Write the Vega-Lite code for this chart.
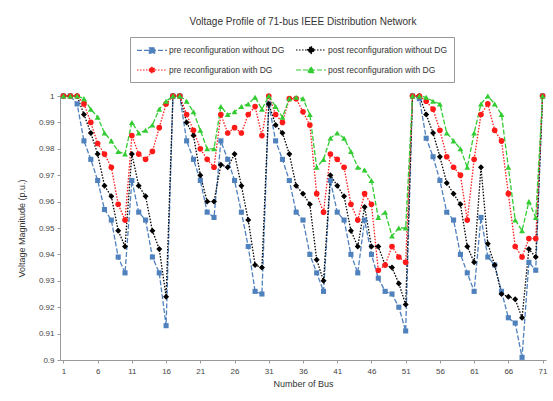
{
  "$schema": "https://vega.github.io/schema/vega-lite/v6.json",
  "width": 486,
  "height": 264,
  "autosize": "none",
  "padding": {"left": 60, "top": 96, "right": 7, "bottom": 41},
  "background": "white",
  "title": {"text": "Voltage Profile of 71-bus IEEE Distribution Network", "font": "Liberation Sans", "fontSize": 10, "fontWeight": "normal", "color": "#333333", "anchor": "middle", "frame": "group", "offset": 10},
  "data": {"values": [
    {"bus":1,"a":1,"b":1,"c":1,"d":1},
    {"bus":2,"a":1,"b":1,"c":1,"d":1},
    {"bus":3,"a":0.997,"b":1,"c":1,"d":1},
    {"bus":4,"a":0.983,"b":0.993,"c":0.997,"d":0.999},
    {"bus":5,"a":0.976,"b":0.986,"c":0.990,"d":0.995},
    {"bus":6,"a":0.968,"b":0.978,"c":0.982,"d":0.992},
    {"bus":7,"a":0.957,"b":0.966,"c":0.978,"d":0.986},
    {"bus":8,"a":0.953,"b":0.962,"c":0.973,"d":0.983},
    {"bus":9,"a":0.939,"b":0.949,"c":0.959,"d":0.979},
    {"bus":10,"a":0.933,"b":0.943,"c":0.953,"d":0.978},
    {"bus":11,"a":0.968,"b":0.978,"c":0.985,"d":0.990},
    {"bus":12,"a":0.956,"b":0.966,"c":0.978,"d":0.986},
    {"bus":13,"a":0.953,"b":0.962,"c":0.976,"d":0.987},
    {"bus":14,"a":0.939,"b":0.949,"c":0.979,"d":0.989},
    {"bus":15,"a":0.933,"b":0.942,"c":0.988,"d":0.995},
    {"bus":16,"a":0.913,"b":0.924,"c":0.997,"d":0.998},
    {"bus":17,"a":1,"b":1,"c":1,"d":1},
    {"bus":18,"a":1,"b":1,"c":1,"d":1},
    {"bus":19,"a":0.983,"b":0.990,"c":0.993,"d":0.998},
    {"bus":20,"a":0.976,"b":0.985,"c":0.987,"d":0.994},
    {"bus":21,"a":0.968,"b":0.970,"c":0.980,"d":0.987},
    {"bus":22,"a":0.956,"b":0.960,"c":0.976,"d":0.980},
    {"bus":23,"a":0.954,"b":0.960,"c":0.973,"d":0.980},
    {"bus":24,"a":0.983,"b":0.974,"c":0.993,"d":0.996},
    {"bus":25,"a":0.976,"b":0.973,"c":0.986,"d":0.993},
    {"bus":26,"a":0.968,"b":0.978,"c":0.988,"d":0.994},
    {"bus":27,"a":0.956,"b":0.966,"c":0.986,"d":0.996},
    {"bus":28,"a":0.943,"b":0.953,"c":0.993,"d":0.997},
    {"bus":29,"a":0.926,"b":0.936,"c":0.996,"d":0.9995},
    {"bus":30,"a":0.925,"b":0.935,"c":0.985,"d":0.995},
    {"bus":31,"a":0.997,"b":0.997,"c":1,"d":1},
    {"bus":32,"a":0.983,"b":0.989,"c":0.993,"d":0.996},
    {"bus":33,"a":0.976,"b":0.986,"c":0.990,"d":0.992},
    {"bus":34,"a":0.968,"b":0.978,"c":0.999,"d":0.999},
    {"bus":35,"a":0.956,"b":0.966,"c":0.999,"d":0.9995},
    {"bus":36,"a":0.953,"b":0.963,"c":0.994,"d":0.999},
    {"bus":37,"a":0.940,"b":0.959,"c":0.989,"d":0.993},
    {"bus":38,"a":0.933,"b":0.938,"c":0.963,"d":0.973},
    {"bus":39,"a":0.926,"b":0.930,"c":0.956,"d":0.976},
    {"bus":40,"a":0.968,"b":0.970,"c":0.978,"d":0.984},
    {"bus":41,"a":0.956,"b":0.966,"c":0.976,"d":0.986},
    {"bus":42,"a":0.953,"b":0.962,"c":0.973,"d":0.984},
    {"bus":43,"a":0.940,"b":0.949,"c":0.959,"d":0.979},
    {"bus":44,"a":0.933,"b":0.943,"c":0.953,"d":0.973},
    {"bus":45,"a":0.953,"b":0.958,"c":0.963,"d":0.972},
    {"bus":46,"a":0.940,"b":0.943,"c":0.959,"d":0.968},
    {"bus":47,"a":0.931,"b":0.943,"c":0.934,"d":0.954},
    {"bus":48,"a":0.926,"b":0.936,"c":0.936,"d":0.956},
    {"bus":49,"a":0.925,"b":0.935,"c":0.943,"d":0.947},
    {"bus":50,"a":0.920,"b":0.929,"c":0.939,"d":0.950},
    {"bus":51,"a":0.911,"b":0.921,"c":0.937,"d":0.950},
    {"bus":52,"a":1,"b":1,"c":1,"d":1},
    {"bus":53,"a":0.999,"b":1,"c":1,"d":1},
    {"bus":54,"a":0.984,"b":0.993,"c":0.998,"d":0.9995},
    {"bus":55,"a":0.977,"b":0.986,"c":0.995,"d":0.998},
    {"bus":56,"a":0.968,"b":0.977,"c":0.987,"d":0.997},
    {"bus":57,"a":0.956,"b":0.967,"c":0.977,"d":0.986},
    {"bus":58,"a":0.953,"b":0.963,"c":0.973,"d":0.983},
    {"bus":59,"a":0.940,"b":0.959,"c":0.970,"d":0.980},
    {"bus":60,"a":0.933,"b":0.943,"c":0.953,"d":0.973},
    {"bus":61,"a":0.926,"b":0.937,"c":0.976,"d":0.986},
    {"bus":62,"a":0.954,"b":0.973,"c":0.993,"d":0.997},
    {"bus":63,"a":0.939,"b":0.944,"c":0.997,"d":1},
    {"bus":64,"a":0.936,"b":0.936,"c":0.987,"d":0.997},
    {"bus":65,"a":0.926,"b":0.925,"c":0.983,"d":0.993},
    {"bus":66,"a":0.916,"b":0.924,"c":0.963,"d":0.973},
    {"bus":67,"a":0.914,"b":0.923,"c":0.943,"d":0.953},
    {"bus":68,"a":0.901,"b":0.916,"c":0.939,"d":0.949},
    {"bus":69,"a":0.937,"b":0.942,"c":0.946,"d":0.960},
    {"bus":70,"a":0.934,"b":0.939,"c":0.946,"d":0.954},
    {"bus":71,"a":1,"b":1,"c":1,"d":1}
  ]},
  "transform": [{"fold": ["a", "b", "c", "d"], "as": ["key", "v"]}],
  "encoding": {
    "x": {"field": "bus", "type": "quantitative",
      "scale": {"domain": [0.5, 71.5], "nice": false, "zero": false},
      "axis": {"values": [1,6,11,16,21,26,31,36,41,46,51,56,61,66,71], "title": "Number of Bus", "grid": false,
        "domainColor": "#999999", "tickColor": "#999999", "tickSize": 3, "labelFont": "Liberation Sans", "labelFontSize": 8, "labelColor": "#444444", "labelPadding": 4,
        "titleFont": "Liberation Sans", "titleFontSize": 9, "titleFontWeight": "normal", "titleColor": "#333333", "titlePadding": 4}},
    "y": {"field": "v", "type": "quantitative",
      "scale": {"domain": [0.9, 1], "nice": false, "zero": false},
      "axis": {"values": [0.9,0.91,0.92,0.93,0.94,0.95,0.96,0.97,0.98,0.99,1], "format": ".2~f", "title": "Voltage Magnitude (p.u.)", "grid": false,
        "domainColor": "#999999", "tickColor": "#999999", "tickSize": 3, "labelFont": "Liberation Sans", "labelFontSize": 8, "labelColor": "#444444", "labelPadding": 3,
        "titleFont": "Liberation Sans", "titleFontSize": 9, "titleFontWeight": "normal", "titleColor": "#333333", "titlePadding": 12}},
    "color": {"field": "key", "type": "nominal",
      "scale": {"domain": ["a", "b", "c", "d"], "range": ["#4F81BD", "#000000", "#FF1A1A", "#33CC33"]},
      "legend": {"orient": "none", "legendX": 70, "legendY": -59, "columns": 2, "direction": "horizontal", "title": null,
        "strokeColor": "#999999", "fillColor": "white", "padding": 6, "rowPadding": 7, "columnPadding": 8,
        "labelFont": "Liberation Sans", "labelFontSize": 8.5, "labelColor": "#333333", "labelOffset": 19, "symbolSize": 144,
        "labelExpr": "datum.value == 'a' ? 'pre reconfiguration without DG' : datum.value == 'b' ? 'post reconfiguration without DG' : datum.value == 'c' ? 'pre reconfiguration with DG' : 'post reconfiguration with DG'",
        "encode": {"symbols": {"update": {
          "shape": {"signal": "datum.value == 'a' ? 'M-1,0H4M1.05,-0.45H1.95V0.45H1.05Z' : datum.value == 'b' ? 'M-1,0H4M1.5,-0.6L2.1,0L1.5,0.6L0.9,0Z' : datum.value == 'c' ? 'M-1,0H4M1.05,0A0.45,0.45 0 1,0 1.95,0A0.45,0.45 0 1,0 1.05,0Z' : 'M-1,0H4M1.5,-0.55L2.05,0.45H0.95Z'"},
          "strokeDash": {"signal": "datum.value == 'a' || datum.value == 'd' ? [3, 1.5] : [1, 1]"},
          "fill": {"scale": "color", "field": "value"},
          "stroke": {"scale": "color", "field": "value"},
          "strokeWidth": {"value": 1.2},
          "opacity": {"value": 1},
          "size": {"value": 144}
        }}}}}
  },
  "layer": [
    {"mark": {"type": "line", "strokeWidth": 1.3},
     "encoding": {"strokeDash": {"field": "key", "type": "nominal", "scale": {"domain": ["a", "b", "c", "d"], "range": [[5, 2], [1.5, 1.5], [1.5, 1.5], [5, 2]]}, "legend": null}}},
    {"transform": [{"filter": "datum.key == 'a'"}], "mark": {"type": "point", "shape": "square", "filled": true, "opacity": 1, "size": 26}},
    {"transform": [{"filter": "datum.key == 'b'"}], "mark": {"type": "point", "shape": "diamond", "filled": true, "opacity": 1, "size": 36}},
    {"transform": [{"filter": "datum.key == 'c'"}], "mark": {"type": "point", "shape": "circle", "filled": true, "opacity": 1, "size": 32}},
    {"transform": [{"filter": "datum.key == 'd'"}], "mark": {"type": "point", "shape": "triangle-up", "filled": true, "opacity": 1, "size": 34}}
  ],
  "config": {"view": {"stroke": null}, "font": "Liberation Sans"}
}
